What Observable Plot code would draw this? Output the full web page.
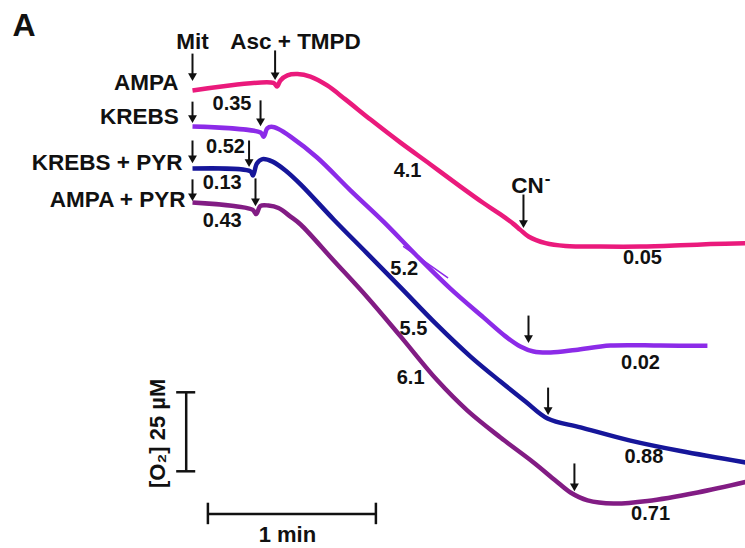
<!DOCTYPE html>
<html><head><meta charset="utf-8">
<script src="https://cdn.jsdelivr.net/npm/d3@7"></script>
<script src="https://cdn.jsdelivr.net/npm/@observablehq/plot@0.6"></script>
<style>html,body{margin:0;padding:0;background:#fff;} #chart svg{display:block;}</style>
</head><body><div id="chart"></div>
<script>
const FONT = "Arial, 'Liberation Sans', Helvetica, sans-serif";

// Series (traces are offset vertically, as in the original figure)
const seriesNames  = ["AMPA", "KREBS", "KREBS + PYR", "AMPA + PYR"];
const seriesColors = ["#ea1a7c", "#8c2be8", "#16169a", "#821c84"];

// time in s (0 = mitochondria addition), O2 in µM (offset per trace)
const ampaTime = [0, 28.9, 30.2, 31.4, 33.9, 37.5, 42.1, 48.1, 54.6, 63.6, 74.3, 85.0, 95.7, 103.9, 110, 114.6, 117.1, 120, 126.1, 133.2, 145.7, 160, 174.3, 185, 197.5];
const ampaO2   = [142.4, 144.8, 143.7, 145.6, 147.2, 147.6, 146.8, 144.0, 139.6, 133.2, 125.9, 119.0, 112.0, 106.8, 103.2, 100.2, 98.3, 96.2, 94.1, 93.2, 93.0, 93.0, 93.4, 93.8, 94.1];

const krebsTime = [0, 24.3, 25.4, 26.7, 28.2, 30.7, 35.0, 44.5, 56.4, 68.2, 80.0, 92.1, 103.9, 111.8, 117.1, 121.8, 127.9, 136.8, 149.3, 167.1, 183.9];
const krebsO2   = [131.0, 129.1, 127.8, 130.4, 130.9, 130.2, 127.8, 121.2, 110.8, 100.9, 90.2, 79.7, 70.6, 64.6, 61.4, 59.8, 59.5, 60.3, 61.7, 61.7, 61.6];

const krebsPyrTime = [0, 20.7, 21.6, 23.0, 25.0, 28.6, 33.2, 38.6, 50.4, 62.1, 74.3, 86.8, 99.3, 110, 118.9, 126.8, 138.6, 156.4, 174.3, 197.5];
const krebsPyrO2   = [117.7, 116.8, 115.5, 119.3, 120.7, 119.9, 117.1, 112.7, 101.6, 91.1, 80.1, 68.7, 58.2, 50.3, 44.0, 38.6, 35.8, 31.6, 28.3, 24.7];

const ampaPyrTime = [0, 21.4, 22.7, 24.3, 27.1, 30.7, 35.0, 38.6, 50.4, 62.5, 74.3, 87.5, 98.2, 110, 121.8, 129.6, 135, 141.1, 150.4, 162.5, 180.4, 197.5];
const ampaPyrO2   = [107.0, 104.7, 103.3, 105.9, 106.0, 105.2, 102.5, 100.0, 88.6, 76.9, 64.6, 50.6, 41.1, 32.6, 24.7, 19.0, 15.2, 12.7, 11.7, 12.5, 15.2, 18.5];

// small recording artefact on the KREBS trace
const artefactTime = [75.4, 91.1];
const artefactO2   = [93.0, 83.2];

// series labels
const labelTime = [-5.0, -4.9, -3.6, -2.5];
const labelO2   = [144.8, 134.0, 119.5, 107.9];

// additions (arrows): Mit, Asc + TMPD, CN-
const arrowTime = [0, 0, 0, 0, 29.5, 24.3, 20.2, 22.5, 118.2, 120, 127, 136.4];
const arrowTop  = [152.5, 137.3, 125.0, 112.7, 153.5, 137.7, 125.0, 113.0, 107.9, 69.6, 46.8, 22.8];
const arrowTip  = [145.6, 132.3, 119.6, 107.6, 145.9, 131.3, 118.4, 106.0, 99.1, 62.7, 39.9, 15.8];

const additionText = ["Mit", "Asc + TMPD", "CN"];
const additionTime = [0, 36.8, 119.6];
const additionO2   = [157.8, 157.9, 112.2];

// respiration rates
const rateText = ["0.35", "0.52", "0.13", "0.43", "4.1", "5.2", "5.5", "6.1", "0.05", "0.02", "0.88", "0.71"];
const rateTime = [14.1, 11.8, 10.6, 10.6, 76.8, 75.6, 78.9, 77.9, 160.7, 160.0, 161.2, 163.6];
const rateO2   = [138.2, 124.7, 113.4, 101.3, 117.1, 86.2, 67.1, 51.6, 89.6, 56.3, 26.6, 8.6];

// scale bars
const timeBarStart = 5.5, timeBarSpan = 60, timeBarLevel = 8.4;   // 1 min
const o2BarStart = 21.9, o2BarSpan = 25, o2BarTime = -2.25;       // 25 µM

// ---- build tables ----
const traces = [
  [ampaTime, ampaO2], [krebsTime, krebsO2], [krebsPyrTime, krebsPyrO2], [ampaPyrTime, ampaPyrO2]
].flatMap(([ts, vs], i) => ts.map((t, j) => ({series: seriesNames[i], t, o2: vs[j]})));
const arrows = arrowTime.map((t, i) => ({t, top: arrowTop[i], tip: arrowTip[i]}));
const rates = rateText.map((s, i) => ({s, t: rateTime[i], o2: rateO2[i]}));
const labels = seriesNames.map((s, i) => ({s, t: labelTime[i], o2: labelO2[i]}));
const additions = additionText.map((s, i) => ({s, t: additionTime[i], o2: additionO2[i]}));

const ink = "#111";
const chart = Plot.plot({
  width: 745, height: 548,
  marginTop: 0, marginRight: 0, marginBottom: 0, marginLeft: 0,
  style: {background: "#fff", fontFamily: FONT, overflow: "visible"},
  x: {axis: null, domain: [-68.571, 197.5], range: [0, 745]},
  y: {axis: null, domain: [-2.532, 170.886], range: [548, 0]},
  color: {domain: seriesNames, range: seriesColors},
  marks: [
    Plot.line(traces, {x: "t", y: "o2", z: "series", stroke: "series", strokeWidth: 4.5, curve: "catmull-rom", strokeLinejoin: "round", strokeLinecap: "butt"}),
    Plot.line(artefactTime.map((t, i) => ({t, o2: artefactO2[i]})), {x: "t", y: "o2", stroke: seriesColors[1], strokeWidth: 1.5}),
    // arrows
    Plot.link(arrows, {x1: "t", x2: "t", y1: "top", y2: "tip", stroke: ink, strokeWidth: 2, dy: -5}),
    Plot.dot(arrows, {x: "t", y: "tip", symbol: "triangle", r: 3.3, rotate: 180, fill: ink, stroke: "none", dy: -4.5}),
    // text
    Plot.text(labels, {x: "t", y: "o2", text: "s", textAnchor: "end", fontSize: 22.5, fontWeight: "bold", fill: ink}),
    Plot.text(additions, {x: "t", y: "o2", text: "s", fontSize: 22.5, fontWeight: "bold", fill: ink}),
    Plot.text(["-"], {x: 126.8, y: 114.6, fontSize: 17, fontWeight: "bold", fill: ink}),
    Plot.text(rates, {x: "t", y: "o2", text: "s", fontSize: 20, fontWeight: "bold", fill: ink}),
    Plot.text(["A"], {x: -64.3, y: 163.0, textAnchor: "start", fontSize: 32, fontWeight: "bold", fill: ink}),
    // scale bars
    Plot.ruleY([timeBarLevel], {x1: timeBarStart, x2: timeBarStart + timeBarSpan, stroke: ink, strokeWidth: 2.5}),
    Plot.ruleX([timeBarStart, timeBarStart + timeBarSpan], {y1: timeBarLevel - 3.4, y2: timeBarLevel + 3.4, stroke: ink, strokeWidth: 2.5}),
    Plot.ruleX([o2BarTime], {y1: o2BarStart, y2: o2BarStart + o2BarSpan, stroke: ink, strokeWidth: 2.5}),
    Plot.ruleY([o2BarStart, o2BarStart + o2BarSpan], {x1: o2BarTime - 3.4, x2: o2BarTime + 3.4, stroke: ink, strokeWidth: 2.5}),
    Plot.text(["1 min"], {x: timeBarStart + timeBarSpan / 2 - 1.6, y: 1.6, fontSize: 22, fontWeight: "bold", fill: ink}),
    Plot.text(["[O\u2082] 25 \u00b5M"], {x: -12.5, y: 33.9, rotate: -90, fontSize: 22, fontWeight: "bold", fill: ink})
  ]
});
document.getElementById("chart").appendChild(chart);
</script>
</body></html>
